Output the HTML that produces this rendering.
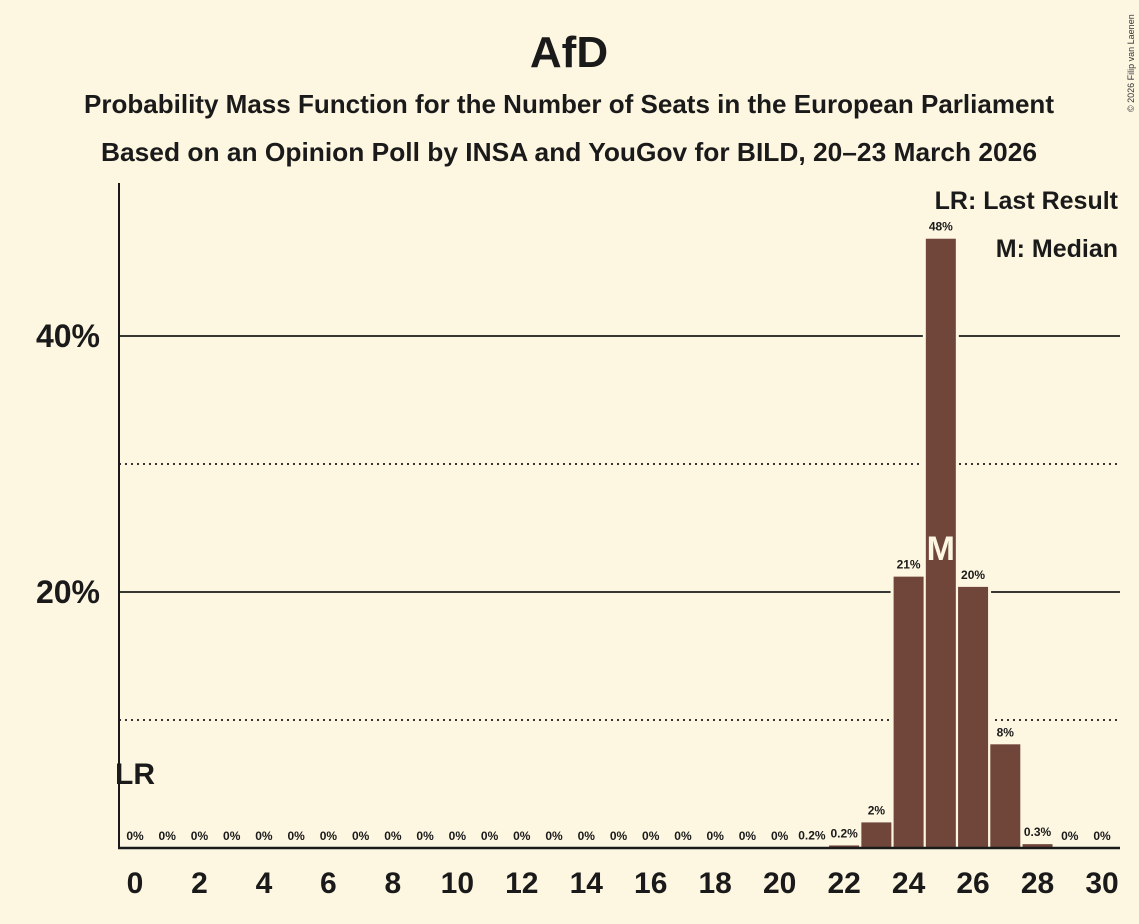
<!DOCTYPE html>
<html><head><meta charset="utf-8"><style>
body{margin:0;background:#fdf7e2;}
svg{display:block;font-family:"Liberation Sans",sans-serif;}
</style></head><body>
<svg id="chart" width="1139" height="924" viewBox="0 0 1139 924">
<rect width="1139" height="924" fill="#fdf7e2"/>
<text x="569" y="67" text-anchor="middle" font-size="44" font-weight="bold" fill="#1a1a1a">AfD</text>
<text x="569" y="113" text-anchor="middle" font-size="25.8" font-weight="bold" fill="#1a1a1a" textLength="970" lengthAdjust="spacingAndGlyphs">Probability Mass Function for the Number of Seats in the European Parliament</text>
<text x="569" y="161" text-anchor="middle" font-size="25.8" font-weight="bold" fill="#1a1a1a" textLength="936" lengthAdjust="spacingAndGlyphs">Based on an Opinion Poll by INSA and YouGov for BILD, 20–23 March 2026</text>
<text transform="translate(1134,112) rotate(-90)" font-size="9" fill="#333">© 2026 Filip van Laenen</text>
<text x="1118" y="209" text-anchor="end" font-size="25" font-weight="bold" fill="#1a1a1a">LR: Last Result</text>
<text x="1118" y="257" text-anchor="end" font-size="25" font-weight="bold" fill="#1a1a1a">M: Median</text>
<g id="grid"></g>
<g id="bars"></g>
<line x1="119" y1="183" x2="119" y2="849" stroke="#1a1a1a" stroke-width="2"/>
<line x1="118" y1="848" x2="1120" y2="848" stroke="#1a1a1a" stroke-width="2.5"/>
<g id="labels"></g>
</svg>
<script>
const seats=[0,1,2,3,4,5,6,7,8,9,10,11,12,13,14,15,16,17,18,19,20,21,22,23,24,25,26,27,28,29,30];
const probs=[0,0,0,0,0,0,0,0,0,0,0,0,0,0,0,0,0,0,0,0,0,0.05,0.2,2,21.2,47.6,20.4,8.1,0.3,0,0];
const valueLabels=["0%","0%","0%","0%","0%","0%","0%","0%","0%","0%","0%","0%","0%","0%","0%","0%","0%","0%","0%","0%","0%","0.2%","0.2%","2%","21%","48%","20%","8%","0.3%","0%","0%"];
const xTickLabels=[0,2,4,6,8,10,12,14,16,18,20,22,24,26,28,30];
const yGrid=[10,20,30,40];
const yTickLabels=[20,40];
const lastResult=0, median=25;
const NS="http://www.w3.org/2000/svg";
const x=s=>135+(1102-135)/30*s;
const y=v=>848-v*12.8;
function mk(tag,attrs,parent){const e=document.createElementNS(NS,tag);for(const k in attrs)e.setAttribute(k,attrs[k]);parent.appendChild(e);return e;}
const grid=document.getElementById('grid'),bars=document.getElementById('bars'),labels=document.getElementById('labels');
yGrid.forEach(v=>{
  const l=mk('line',{x1:119,x2:1120,y1:y(v),y2:y(v),stroke:'#1a1a1a','stroke-width':1.8,'stroke-dasharray':v%20===0?'':'2,4'},grid);
  
  
});
yTickLabels.forEach(v=>{
  const t=mk('text',{x:100,y:y(v)+11,'text-anchor':'end','font-size':32,'font-weight':'bold',fill:'#1a1a1a'},labels);
  t.textContent=v+'%';
  
  
});
seats.forEach((s,i)=>{if(probs[i]>=0.5){const h=mk('rect',{x:x(s)-18,y:y(probs[i])-3,width:36,height:848-y(probs[i])+3,fill:'#fdf7e2'},bars);
  
  }});
seats.forEach((s,i)=>{
  const p=probs[i];
  if(p>0){const r=mk('rect',{x:x(s)-15,y:y(p),width:30,height:848-y(p),fill:'#70463b'},bars);
    
    }
  const t=mk('text',{x:x(s),y:Math.min(y(p),848)-8,'text-anchor':'middle','font-size':12,'font-weight':'bold',fill:'#1a1a1a'},labels);
  t.textContent=valueLabels[i];
  
  
});
xTickLabels.forEach(s=>{
  const t=mk('text',{x:x(s),y:893,'text-anchor':'middle','font-size':30,'font-weight':'bold',fill:'#1a1a1a'},labels);
  t.textContent=s;
  
  
});
const lr=mk('text',{x:x(lastResult),y:784,'text-anchor':'middle','font-size':30,'font-weight':'bold',fill:'#1a1a1a'},labels);
lr.textContent='LR';


const m=mk('text',{x:x(median),y:560,'text-anchor':'middle','font-size':34,'font-weight':'bold',fill:'#fdf7e2'},labels);
m.textContent='M';


</script>
</body></html>
